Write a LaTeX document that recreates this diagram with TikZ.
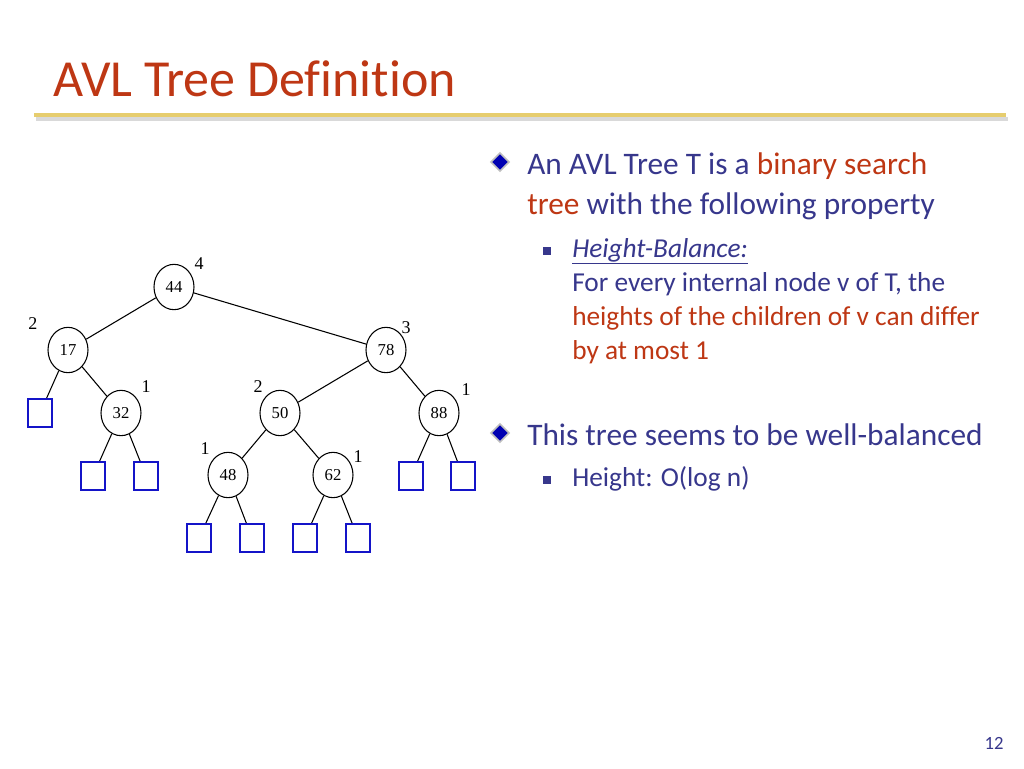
\documentclass[tikz,border=0pt]{standalone}
\usepackage{fontspec}
\setmainfont[Ligatures=CommonOff]{Carlito}
\newfontfamily\treefont{Liberation Serif}
\definecolor{titlered}{RGB}{190,55,20}
\definecolor{txtblue}{RGB}{55,55,140}
\definecolor{sqblue}{RGB}{20,20,200}
\definecolor{gold}{RGB}{230,205,110}
\usetikzlibrary{shapes.geometric}
\begin{document}
\begin{tikzpicture}[x=0.75pt,y=-0.75pt,
  tn/.style={ellipse,draw,thick,minimum width=30pt,minimum height=34pt,inner sep=0pt,font=\treefont\fontsize{12.5}{12.5}\selectfont},
  lf/.style={draw=sqblue,line width=1.5pt,minimum width=18pt,minimum height=21pt,inner sep=0pt},
  hl/.style={font=\treefont\fontsize{13.5}{13.5}\selectfont},
  edge/.style={thick},
  big/.style={anchor=base west,inner sep=0pt,text=txtblue,font=\fontsize{23.5}{28}\selectfont},
  small/.style={anchor=base west,inner sep=0pt,text=txtblue,font=\fontsize{20.5}{25}\selectfont},
  dia/.style={diamond,fill=blue!70!black,draw=gray!50,line width=1.2pt,minimum size=14pt,inner sep=0pt},
  sq/.style={fill=txtblue,minimum size=6.5pt,inner sep=0pt}]
\useasboundingbox (0,0) rectangle (1024,768);
\fill[white] (0,0) rectangle (1024,768);
\node[anchor=base west,inner sep=0pt,text=titlered,font=\fontsize{39}{39}\selectfont] (title) at (53,96) {AVL Tree Definition};
\fill[gray!30] (36,117) rectangle (1008,121);
\fill[gold] (34,113) rectangle (1006,117);
% tree
\node[tn] (n44) at (174,287) {44};
\node[tn] (n17) at (68,350) {17};
\node[tn] (n78) at (386,350) {78};
\node[tn] (n32) at (121,413) {32};
\node[tn] (n50) at (280,413) {50};
\node[tn] (n88) at (439,413) {88};
\node[tn] (n48) at (228,475) {48};
\node[tn] (n62) at (333,475) {62};
\node[lf] (l1) at (40,413) {};
\node[lf] (l2) at (93,476) {};
\node[lf] (l3) at (146,476) {};
\node[lf] (l4) at (411,476) {};
\node[lf] (l5) at (463,476) {};
\node[lf] (l6) at (199,538) {};
\node[lf] (l7) at (252,538) {};
\node[lf] (l8) at (305,538) {};
\node[lf] (l9) at (358,538) {};
\draw[edge] (n44)--(n17) (n44)--(n78) (n17)--(l1) (n17)--(n32) (n32)--(l2) (n32)--(l3)
 (n78)--(n50) (n78)--(n88) (n88)--(l4) (n88)--(l5) (n50)--(n48) (n50)--(n62)
 (n48)--(l6) (n48)--(l7) (n62)--(l8) (n62)--(l9);
\node[hl] (h44) at (199,264) {4};
\node[hl] (h17) at (33,324) {2};
\node[hl] (h78) at (406,328) {3};
\node[hl] (h32) at (146,387) {1};
\node[hl] (h50) at (258,387) {2};
\node[hl] (h88) at (466,390) {1};
\node[hl] (h48) at (205,449) {1};
\node[hl] (h62) at (358,457) {1};
% text
\node[dia] (d1) at (500,162) {};
\node[big] (t1a) at (527,174) {An AVL Tree T is a \textcolor{titlered}{binary search}};
\node[big] (t1b) at (527,214) {\textcolor{titlered}{tree} with the following property};
\node[sq] (s1) at (547,251) {};
\node[small] (t2a) at (572,257) {\underline{\textit{Height-Balance:}}};
\node[small] (t2b) at (572,291) {For every internal node v of T, the};
\node[small,text=titlered] (t2c) at (572,325) {heights of the children of v can differ};
\node[small,text=titlered] (t2d) at (572,359) {by at most 1};
\node[dia] (d2) at (500,433) {};
\node[big] (t3) at (527,445) {This tree seems to be well-balanced};
\node[sq] (s2) at (547,480) {};
\node[small] (t4) at (572,486) {Height: O(log n)};
\node[text=txtblue,font=\fontsize{14}{14}\selectfont] (pg) at (994,743) {12};
\end{tikzpicture}
\end{document}
